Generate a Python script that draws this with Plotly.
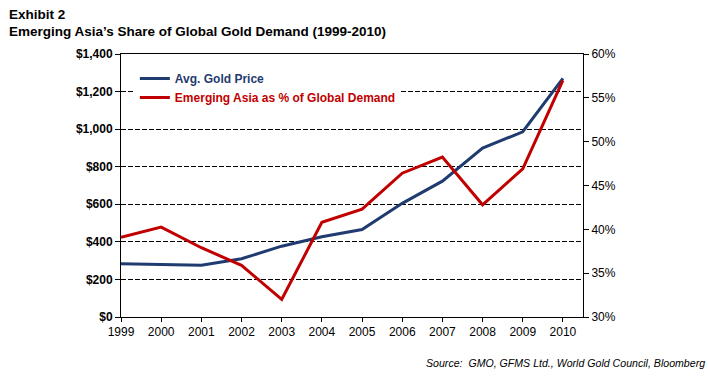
import plotly.graph_objects as go

years = [1999, 2000, 2001, 2002, 2003, 2004, 2005, 2006, 2007, 2008, 2009, 2010]
gold_price = [283, 280, 276, 310, 377, 427, 466, 605, 723, 899, 986, 1270]
asia_share = [39.1, 40.25, 37.9, 35.9, 32.0, 40.8, 42.3, 46.4, 48.25, 42.8, 46.9, 57.0]

left_ticks = [0, 200, 400, 600, 800, 1000, 1200, 1400]
right_ticks = [30, 35, 40, 45, 50, 55, 60]

BLUE = "#1F3B70"
RED = "#C00000"
FONT = "Liberation Sans, Arial, sans-serif"

L, R, T, B = 121, 125, 54, 63
PW, PH = 708 - L - R, 380 - T - B

fig = go.Figure()
fig.add_trace(go.Scatter(
    x=years, y=gold_price, mode="lines",
    name=f"<span style='color:{BLUE}'><b>Avg. Gold Price</b></span>",
    line=dict(color=BLUE, width=3), yaxis="y",
))
fig.add_trace(go.Scatter(
    x=years, y=asia_share, mode="lines",
    name=f"<span style='color:{RED}'><b>Emerging Asia as % of Global Demand</b></span>",
    line=dict(color=RED, width=3), yaxis="y2",
))

fig.update_layout(
    width=708, height=380,
    margin=dict(l=L, r=R, t=T, b=B),
    paper_bgcolor="white", plot_bgcolor="white",
    font=dict(family=FONT, size=12, color="black"),
    showlegend=True,
    hovermode=False,
    legend=dict(x=0.03, y=0.962, xanchor="left", yanchor="top",
                bgcolor="white", borderwidth=0, tracegroupgap=0,
                font=dict(family=FONT, size=12)),
    xaxis=dict(
        range=[1999, 2010.5], tickvals=years, ticktext=[str(y) for y in years],
        showline=True, linecolor="black", linewidth=1, mirror=True,
        ticks="outside", ticklen=4, tickcolor="black",
        showgrid=False, zeroline=False,
        tickfont=dict(family=FONT, size=12, color="black"),
    ),
    yaxis=dict(
        range=[0, 1400], tickvals=left_ticks,
        ticktext=[f"<b>${v:,}</b>" for v in left_ticks],
        showline=True, linecolor="black", linewidth=1,
        ticks="outside", ticklen=5, tickcolor="black",
        showgrid=True, gridcolor="black", gridwidth=1, griddash="5px,2px",
        zeroline=False,
        tickfont=dict(family=FONT, size=12, color="black"),
    ),
    yaxis2=dict(
        range=[30, 60], tickvals=right_ticks,
        ticktext=[f"{v}%" for v in right_ticks],
        overlaying="y", side="right",
        showline=True, linecolor="black", linewidth=1,
        ticks="outside", ticklen=5, tickcolor="black",
        showgrid=False, zeroline=False,
        tickfont=dict(family=FONT, size=12, color="black"),
    ),
    annotations=[
        dict(text="<b>Exhibit 2</b>", xref="paper", yref="paper",
             x=(7 - L) / PW, y=1 + (T - 15) / PH, xanchor="left", yanchor="middle",
             showarrow=False, font=dict(family=FONT, size=13.5, color="black")),
        dict(text="<b>Emerging Asia\u2019s Share of Global Gold Demand (1999-2010)</b>",
             xref="paper", yref="paper",
             x=(7 - L) / PW, y=1 + (T - 31) / PH, xanchor="left", yanchor="middle",
             showarrow=False, font=dict(family=FONT, size=13.5, color="black")),
        dict(text="<i>Source:\u00a0 GMO, GFMS Ltd., World Gold Council, Bloomberg</i>",
             xref="paper", yref="paper",
             x=(707 - L) / PW, y=-(363 - (380 - B)) / PH, xanchor="right", yanchor="middle",
             showarrow=False, font=dict(family=FONT, size=10.6, color="black")),
    ],
)

fig.write_html("out.html", config={"displayModeBar": False},
               post_script="document.body.style.margin='0';")
